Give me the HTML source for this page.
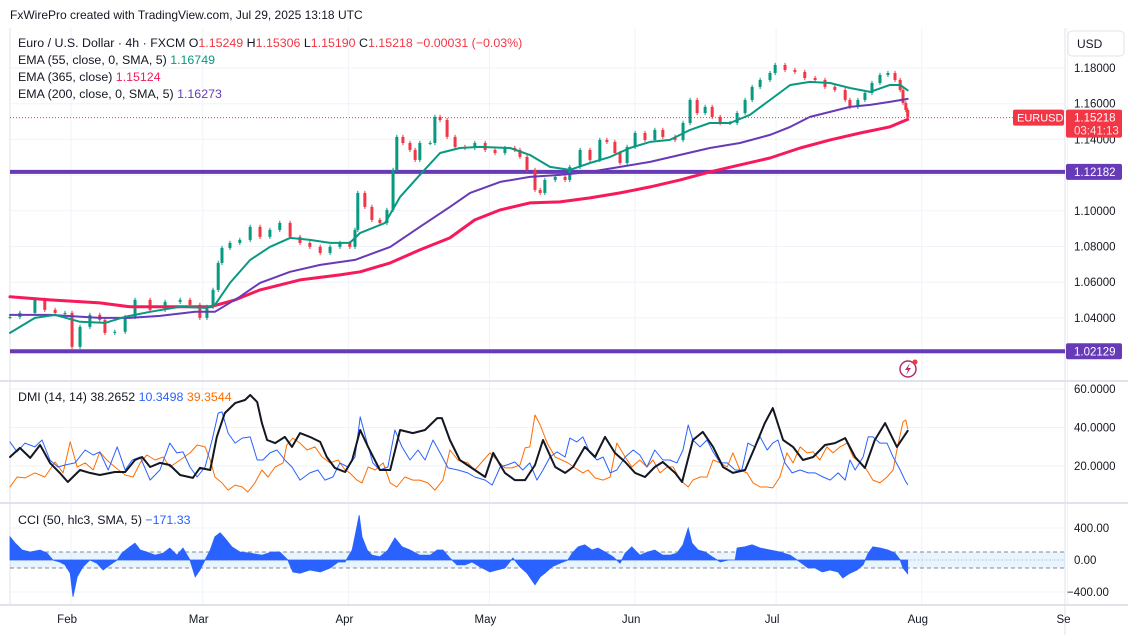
<!DOCTYPE html>
<html><head><meta charset="utf-8">
<style>
html,body{margin:0;padding:0;background:#fff;}
svg{display:block;font-family:"Liberation Sans",sans-serif;}
</style></head>
<body>
<svg id="chart" width="1128" height="635" viewBox="0 0 1128 635" xmlns="http://www.w3.org/2000/svg">
  <rect x="0" y="0" width="1128" height="635" fill="#ffffff"/>
  <g id="grid"></g>
  <g id="bands"></g>
  <g id="marks"></g>
  <g id="overlay"></g>
  <text x="10" y="19" font-size="12" fill="#131722">FxWirePro created with TradingView.com, Jul 29, 2025 13:18 UTC</text>
  <g font-size="12.4">
    <text x="18" y="47" fill="#131722">Euro / U.S. Dollar · 4h · FXCM  <tspan fill="#131722">O</tspan><tspan fill="#f23645">1.15249</tspan>  <tspan fill="#131722">H</tspan><tspan fill="#f23645">1.15306</tspan>  <tspan fill="#131722">L</tspan><tspan fill="#f23645">1.15190</tspan>  <tspan fill="#131722">C</tspan><tspan fill="#f23645">1.15218 −0.00031 (−0.03%)</tspan></text>
    <text x="18" y="64" fill="#131722">EMA (55, close, 0, SMA, 5) <tspan fill="#089981">1.16749</tspan></text>
    <text x="18" y="81" fill="#131722">EMA (365, close) <tspan fill="#f7195a">1.15124</tspan></text>
    <text x="18" y="98" fill="#131722">EMA (200, close, 0, SMA, 5) <tspan fill="#673ab7">1.16273</tspan></text>
    <text x="18" y="401" fill="#131722">DMI (14, 14)  <tspan fill="#131722">38.2652</tspan>  <tspan fill="#2962ff">10.3498</tspan>  <tspan fill="#ff6d00">39.3544</tspan></text>
    <text x="18" y="524" fill="#131722">CCI (50, hlc3, SMA, 5)  <tspan fill="#2962ff">−171.33</tspan></text>
  </g>
  <rect x="1068" y="31" width="56" height="25" rx="4" fill="#fff" stroke="#e0e3eb"/>
  <text x="1077" y="48" font-size="12" fill="#131722">USD</text>
  <g id="axes" font-size="11.5" fill="#131722"></g>
  <g>
    <circle cx="908" cy="369" r="8" fill="#fff" stroke="#b72a6b" stroke-width="1.5"/>
    <path d="M910 363 L905 370 L908 370 L906 375 L911 368 L908 368 Z" fill="#b72a6b"/>
    <circle cx="915" cy="362" r="2.5" fill="#f23645"/>
  </g>
</svg>
<script>
// ---- data (day offsets from Jan 19, 2025) ----
const closeDays = [0,2.1,5.3,7.4,9.6,11.7,13.2,14.9,17,19.1,20.2,22.3,24.5,26.6,29.8,33,36.2,38.3,40.4,41.9,43.2,44.3,45.1,46.8,48.9,51.1,53.2,55.3,57.4,59.6,61.7,63.8,66,68.1,70.2,72.3,73.4,74,75.5,77,78.7,80.2,81.5,82.3,83.6,85.1,86.2,87.2,89.4,90.4,91.5,93,94.7,96.8,98.9,101.1,103.2,105.3,107.4,108.5,110,111.7,112.8,113.8,116,118.1,119.1,121.3,123.4,125.5,127,128.7,129.8,131.3,133,135.1,137.2,138.9,141.5,143.2,144.7,146.2,147.9,149.4,151.1,153.2,154.7,156.4,157.9,159.6,161.7,162.8,164.9,167,169.1,171.3,173.4,175.5,177.7,178.7,180.4,181.9,183.4,185.1,186.8,188.3,189.4,190,190.6,191];
const closes = [1.0405,1.0428,1.0501,1.0445,1.0428,1.0428,1.0238,1.0350,1.0417,1.0389,1.0316,1.0322,1.0405,1.0501,1.0445,1.0490,1.0501,1.0473,1.0400,1.0462,1.0557,1.0708,1.0792,1.0820,1.0837,1.0910,1.0854,1.0893,1.0932,1.0854,1.0820,1.0798,1.0764,1.0798,1.0820,1.0798,1.0893,1.1100,1.1022,1.0949,1.0932,1.1005,1.1229,1.1414,1.1380,1.1341,1.1285,1.1380,1.1380,1.1526,1.1509,1.1414,1.1358,1.1352,1.1380,1.1341,1.1324,1.1352,1.1341,1.1302,1.1229,1.1117,1.1100,1.1173,1.1190,1.1173,1.1246,1.1341,1.1285,1.1397,1.1386,1.1324,1.1268,1.1358,1.1436,1.1397,1.1453,1.1414,1.1397,1.1492,1.1621,1.1548,1.1582,1.1526,1.1492,1.1492,1.1548,1.1621,1.1694,1.1733,1.1772,1.1817,1.1789,1.1778,1.1744,1.1733,1.1694,1.1677,1.1621,1.1582,1.1621,1.1660,1.1716,1.1761,1.1772,1.1733,1.1677,1.1604,1.1565,1.1522];

const ema55Days = [0,5.3,9.6,14.9,20.2,24.5,29.8,36.2,41.5,43.6,46.8,51.1,55.3,59.6,63.8,68.1,72.3,74.5,79.8,83,87.2,91.5,95.7,100,106.4,110.6,114.9,119.1,123.4,127.7,131.9,136.2,140.4,144.7,148.9,153.2,157.4,161.7,166,170.2,174.5,178.7,183,187.2,189.4,191];
const ema55 = [1.0316,1.0400,1.0417,1.0378,1.0372,1.0406,1.0434,1.0462,1.0456,1.0473,1.0596,1.0725,1.0798,1.0848,1.0837,1.0820,1.0820,1.0876,1.0932,1.1078,1.1201,1.1324,1.1352,1.1358,1.1352,1.1313,1.1246,1.1229,1.1268,1.1302,1.1352,1.1386,1.1397,1.1453,1.1492,1.1492,1.1537,1.1621,1.1705,1.1722,1.1716,1.1688,1.1666,1.1705,1.1705,1.1675];

const ema200Days = [0,8.5,19.1,25.5,31.9,39.4,43.6,48.9,53.2,59.6,66,73.4,80.9,87.2,93.6,97.9,104.3,110.6,117,123.4,129.8,136.2,142.6,148.9,155.3,161.7,166,170.2,174.5,178.7,183,187.2,191];
const ema200 = [1.0417,1.0417,1.0400,1.0400,1.0411,1.0434,1.0434,1.0518,1.0596,1.0658,1.0697,1.0725,1.0798,1.0910,1.1022,1.1100,1.1162,1.1190,1.1201,1.1218,1.1246,1.1274,1.1313,1.1352,1.1380,1.1425,1.1470,1.1526,1.1554,1.1582,1.1593,1.1610,1.1627];

const ema365Days = [0,8.5,19.1,25.5,34,42.6,47.9,53.2,61.7,70.2,74.5,80.9,87.2,93.6,98.9,104.3,110.6,117,123.4,129.8,136.2,142.6,148.9,155.3,161.7,168.1,174.5,180.9,187.2,191];
const ema365 = [1.0518,1.0501,1.0484,1.0462,1.0462,1.0462,1.0501,1.0557,1.0613,1.0641,1.0658,1.0708,1.0781,1.0848,1.0949,1.1005,1.1044,1.1050,1.1072,1.1100,1.1134,1.1173,1.1218,1.1257,1.1296,1.1352,1.1397,1.1436,1.1470,1.1512];

const adxDays = [0,2.1,4.3,6.4,8.5,10.6,12.3,14.9,17,19.1,22.3,24.5,26.6,28.1,29.8,31.9,34,36.2,38.9,40.4,42.6,44,45.7,47.9,50,51.1,52.6,53.6,54.7,56.4,58.5,60,61.7,63.8,66,67.4,69.1,71.3,72.8,74.5,76.2,78.7,80.9,83,85.7,88.3,90.9,91.9,93.6,95.7,98.9,101.1,102.8,105.3,107.4,109.6,111.7,113.4,116,118.1,119.8,122.3,124.5,126.6,128.7,130.9,133,135.1,137.2,138.9,141.5,143,145.3,147.4,149.6,151.7,153.8,156.4,158.5,160.6,162.3,164.5,166.6,168.7,170.9,173.4,175.5,177.7,179.8,181.9,184,186.2,188.7,191];
const adx = [24.7,29.4,24.2,30.9,21.6,16.4,11.7,17.9,16.4,15.3,16.9,16.9,23.1,24.7,19.5,21.6,20.5,15.3,13.8,19.0,17.9,35.1,47.5,52.7,54.3,56.9,53.2,42.3,33.5,31.9,35.1,29.9,37.1,35.1,32.5,24.7,19.0,16.9,23.1,38.7,29.9,17.9,17.9,38.7,37.1,38.7,44.9,44.9,33.5,23.1,17.9,14.3,26.8,16.4,12.7,12.7,20.5,33.5,19.5,16.4,19.5,29.9,24.7,35.1,26.8,22.1,16.4,14.3,19.5,22.1,16.4,11.7,33.5,37.7,29.9,19.5,16.4,17.9,29.9,42.3,50.1,33.5,29.9,23.1,24.7,30.9,31.9,34.5,24.7,19.0,33.5,42.3,29.9,38.27];

const plusDiDays = [0,1.5,3.2,5.3,6.8,8.5,10.2,11.7,13.8,16,17.7,19.1,20.9,22.8,24.5,26,27.7,29.8,31.9,34,35.5,36.8,38.3,39.8,41.5,43,44.3,45.1,46.4,47.9,49.4,51.1,52.6,53.8,55.3,56.8,58.5,60,61.7,63.8,65.5,67,68.7,70.2,71.9,73.4,74.5,76,77.2,78.7,80.4,81.9,83.4,85.1,86.8,88.3,90,91.5,93.2,95.3,97.4,98.9,101.1,102.6,104.3,105.7,107.4,109.1,110.6,112.1,113.4,114.9,116.4,118.1,119.1,120.6,121.9,123.4,124.9,126.2,127.7,129.1,130.9,132.6,134,135.5,137.2,138.9,140.4,141.9,143.2,144.3,145.3,146.8,148.3,149.6,151.1,152.6,154.3,155.7,157,158.5,159.6,161.1,162.3,163.4,164.9,166.4,168.1,169.8,171.3,173,174.5,176.2,177.7,178.7,179.8,181.5,182.6,183.6,185.1,186.6,187.9,189.4,190.4,191];
const plusDi = [32.5,27.3,31.9,29.9,33.5,23.1,19.5,20.5,21.6,28.3,25.7,27.3,17.9,29.9,17.9,23.1,24.7,12.7,17.9,31.9,26.8,27.3,19.5,14.3,19.5,33.5,47.5,48.1,37.1,31.9,34.5,35.1,23.1,23.1,26.8,28.3,23.1,19.5,12.7,16.4,17.9,12.7,14.3,21.6,19.5,24.7,45.5,31.9,21.6,17.9,19.5,38.7,29.9,23.1,28.3,23.1,33.5,26.8,19.0,17.9,16.4,14.3,12.7,10.1,19.5,20.5,22.1,17.9,21.6,12.7,17.9,24.7,27.3,24.7,34.5,32.5,35.1,26.8,23.1,24.7,16.4,17.9,24.7,28.3,25.7,19.5,28.3,23.1,23.1,21.6,28.3,41.3,33.5,29.9,33.5,27.3,21.6,21.6,17.9,17.9,31.9,29.9,35.1,28.3,31.9,33.5,21.6,16.4,17.9,16.4,16.4,14.3,12.7,16.4,12.7,23.1,17.9,24.7,35.1,35.1,31.9,31.9,24.7,17.9,12.7,10.35];

const minusDiDays = [0,1.5,3.2,5.3,7.4,9.6,11.3,12.8,14.3,16,17.7,19.1,20.6,22.3,24.5,26.2,27.7,29.1,30.9,32.6,34,36.2,38.3,39.8,41.5,42.6,43.6,45.1,46.4,47.9,49.4,50.6,52.1,53.6,54.9,56.4,58.1,58.9,60.2,61.7,63.2,64.9,66.4,68.1,69.8,71.3,72.3,73.8,74.9,76.2,77.7,79.4,80.9,82.3,84,85.7,87.2,88.9,90.4,92.1,93.6,95.3,97.4,98.9,100.4,102.1,103.6,105.3,106.8,108.5,109.6,110.6,111.7,112.8,114.3,116,117.4,118.7,120.2,121.9,123,124.5,126.2,127.7,129.1,130.9,132.3,134,135.5,136.8,138.3,139.8,141.1,142.6,144.3,145.3,146.8,148.3,149.6,151.1,152.6,153.8,155.3,156.8,158.1,159.6,161.1,162.3,163.8,165.3,166.6,168.1,169.6,170.9,172.3,173.8,175.1,176.6,178.1,179.4,180.9,182.3,183.6,185.1,186.6,187.9,188.7,190,190.6,191];
const minusDi = [9.1,14.3,13.8,16.4,14.3,22.1,16.4,32.5,19.5,21.6,17.9,27.3,23.1,19.5,15.3,14.3,21.6,25.7,23.1,24.7,19.5,23.1,26.8,30.9,29.9,23.1,14.3,11.2,7.5,10.1,9.1,6.5,11.2,17.9,14.3,19.5,21.6,30.9,34.5,31.9,28.3,29.9,24.7,21.6,23.1,17.9,16.4,12.7,11.2,19.5,17.9,21.6,11.2,9.1,14.3,12.7,12.7,11.2,7.5,12.7,28.3,23.1,21.6,17.9,22.1,26.8,23.1,19.0,19.0,20.5,29.4,29.9,46.5,41.3,31.9,24.7,23.1,21.6,19.0,16.4,17.9,13.8,12.7,14.3,31.9,24.7,19.5,23.1,19.5,23.1,16.4,19.5,19.5,12.7,9.1,12.7,14.3,14.3,23.1,21.6,19.5,26.8,17.9,16.4,11.2,9.1,9.1,8.6,14.3,26.8,21.6,29.9,26.8,27.3,23.1,29.9,26.8,29.9,31.9,24.7,21.6,17.9,12.7,11.2,14.3,17.9,28.3,42.9,43.9,39.35];

const cciDays = [0,1.1,2.6,4.3,6.4,7.9,9.1,10.6,11.7,12.8,13.4,14.3,15.5,17,18.5,19.8,21.3,22.8,23.8,25.5,26.6,27.7,29.1,30.9,32.6,34,35.5,36.8,38.3,39.4,40.4,41.5,42.6,43.6,44.7,45.7,47.2,48.9,51.1,53.6,55.7,57.4,59.1,60.2,61.7,63.8,66,68.1,69.8,71.3,72.8,73.8,74.3,74.9,76,77,78.7,80.4,81.9,83.4,85.1,87.2,89.4,90.9,92.1,93.6,95.1,96.8,98.3,100,102.1,103.6,105.3,107,108.5,110,111.7,112.8,113.8,115.3,117,118.7,119.6,120.9,122.3,123.8,125.1,126.6,128.3,129.8,130.9,132.3,134,135.7,137.2,138.9,140.4,141.9,143.2,144.3,145.1,146.4,147.9,149.4,151.1,152.8,154.3,154.7,156.4,157.9,159.6,161.7,163.8,166,168.1,169.8,171.3,172.8,174.5,176.2,177.2,178.7,180.2,181.5,182.6,183.6,185.1,186.8,188.3,189.4,190,191];
const cci = [290,210,125,100,125,85,0,-25,-60,-165,-460,-210,-85,0,-40,-125,-60,0,85,165,210,125,100,60,85,150,60,150,0,-210,-125,0,125,290,340,275,165,100,85,60,100,100,0,-150,-165,-125,-150,-100,-25,-25,125,415,560,290,125,60,40,125,275,165,125,60,60,125,125,25,-60,-60,-25,-85,-150,-125,-100,25,-85,-165,-310,-210,-165,-85,-40,0,85,165,190,125,150,100,40,-40,85,165,60,100,125,60,60,85,190,400,210,125,100,40,-25,0,0,150,165,190,150,125,100,60,-25,-100,-100,-150,-125,-150,-225,-165,-125,-60,85,165,150,125,85,0,-100,-171.33];

const priceTicks = ["1.18000","1.16000","1.14000","1.10000","1.08000","1.06000","1.04000"];
const priceTickVals = [1.18,1.16,1.14,1.10,1.08,1.06,1.04];
const gridPriceVals = [1.18,1.16,1.14,1.12,1.10,1.08,1.06,1.04,1.02];
const dmiTickVals = [60,40,20];
const dmiTicks = ["60.0000","40.0000","20.0000"];
const cciTickVals = [400,0,-400];
const cciTicks = ["400.00","0.00","−400.00"];
const monthDays = [13,41,72,102,133,163,194,225];
const monthLabels = ["Feb","Mar","Apr","May","Jun","Jul","Aug","Se"];
const hLevels = [1.12182,1.02129];
const hLevelLabels = ["1.12182","1.02129"];
const lastPrice = 1.15218;

// ---- scales ----
const X0 = 10, PX_PER_DAY = 4.70, PANE_R = 1065;
const xD = d => X0 + PX_PER_DAY * d;
const yP = p => 68 + (1.18 - p) * 1785;
const yD = v => 504.5 - 1.925 * v;
const yC = v => 560 - 0.08 * v;
const NS = "http://www.w3.org/2000/svg";
function mk(tag, parent, attrs){ const e=document.createElementNS(NS,tag); for(const k in attrs) e.setAttribute(k,attrs[k]); parent.appendChild(e); return e; }

const grid = document.getElementById('grid');
const marks = document.getElementById('marks');
const overlay = document.getElementById('overlay');
const axes = document.getElementById('axes');
const bands = document.getElementById('bands');

monthDays.forEach((d,i)=>{
  const l = mk('line', grid, {x1:xD(d), x2:xD(d), y1:28, y2:605, stroke:'#f0f3fa', 'stroke-width':1});
  
  
});
gridPriceVals.forEach(v=>{
  const l = mk('line', grid, {x1:X0, x2:PANE_R, y1:yP(v), y2:yP(v), stroke:'#f0f3fa'});
  
  
});
dmiTickVals.forEach(v=>{
  const l = mk('line', grid, {x1:X0, x2:PANE_R, y1:yD(v), y2:yD(v), stroke:'#f0f3fa'});
  
  
});
cciTickVals.forEach(v=>{
  const l = mk('line', grid, {x1:X0, x2:PANE_R, y1:yC(v), y2:yC(v), stroke:'#f0f3fa'});
  
  
});
[[381,'pane-separator-dmi'],[503,'pane-separator-cci'],[605,'time-axis-border']].forEach(s=>{
  const l = mk('line', grid, {x1:0, x2:1128, y1:s[0], y2:s[0], stroke:'#e0e3eb', 'stroke-width':2});
  
  
});
const vb = mk('line', grid, {x1:PANE_R, x2:PANE_R, y1:28, y2:635, stroke:'#e0e3eb'});


const lb = mk('line', grid, {x1:X0, x2:X0, y1:28, y2:605, stroke:'#e0e3eb'});



const band = mk('rect', bands, {x:X0, y:yC(100), width:PANE_R-X0, height:yC(-100)-yC(100), fill:'rgba(33,150,243,0.1)'});


[100,0,-100].forEach(v=>{
  const l = mk('line', bands, {x1:X0, x2:PANE_R, y1:yC(v), y2:yC(v), stroke:'#787b86', 'stroke-dasharray': v===0?'1 3':'4 3', 'stroke-opacity': v===0?0.4:0.9});
  
  
});

hLevels.forEach((v,i)=>{
  const l = mk('line', marks, {x1:X0, x2:PANE_R, y1:yP(v), y2:yP(v), stroke:'#673ab7', 'stroke-width':4});
  
  
});

const cg = mk('g', marks, {});


closes.forEach((c,i)=>{
  const o = i===0 ? c : closes[i-1];
  const up = c >= o;
  const col = up ? '#089981' : '#f23645';
  const x = xD(closeDays[i]);
  const hi = Math.max(o,c)+0.0012, lo = Math.min(o,c)-0.0012;
  const w = mk('line', cg, {x1:x, x2:x, y1:yP(hi), y2:yP(lo), stroke:col, 'stroke-width':1});
  
  
  const top = yP(Math.max(o,c)), h = Math.max(1, yP(Math.min(o,c)) - top);
  const b = mk('rect', cg, {x:x-1.5, y:top, width:3, height:h, fill:col});
  
  
});

function line(days, vals, yf, color, width, name){
  const d = days.map((dd,i)=>(i?'L':'M')+xD(dd).toFixed(1)+' '+yf(vals[i]).toFixed(1)).join(' ');
  const p = mk('path', marks, {d:d, fill:'none', stroke:color, 'stroke-width':width, 'stroke-linejoin':'round', 'stroke-linecap':'round'});
  
  
  return p;
}
line(ema365Days, ema365, yP, '#f7195a', 3, 'ema365-line');
line(ema200Days, ema200, yP, '#673ab7', 2, 'ema200-line');
line(ema55Days, ema55, yP, '#089981', 2, 'ema55-line');

line(minusDiDays, minusDi, yD, '#ff6d00', 1, 'minus-di-line');
line(plusDiDays, plusDi, yD, '#2962ff', 1, 'plus-di-line');
line(adxDays, adx, yD, '#131722', 2, 'adx-line');

let cd = 'M'+xD(cciDays[0]).toFixed(1)+' '+yC(0);
cciDays.forEach((dd,i)=>{ cd += ' L'+xD(dd).toFixed(1)+' '+yC(cci[i]).toFixed(1); });
cd += ' L'+xD(cciDays[cciDays.length-1]).toFixed(1)+' '+yC(0)+' Z';
const ca = mk('path', marks, {d:cd, fill:'#2962ff', stroke:'#2962ff', 'stroke-width':0.8});



const lp = mk('line', overlay, {x1:X0, x2:PANE_R, y1:yP(lastPrice), y2:yP(lastPrice), stroke:'#f23645', 'stroke-dasharray':'1 2', 'stroke-width':1});



priceTicks.forEach((t,i)=>{
  const e = mk('text', axes, {x:1074, y:yP(priceTickVals[i])+4});
  e.textContent = t;
  
  
});
dmiTicks.forEach((t,i)=>{
  const e = mk('text', axes, {x:1074, y:yD(dmiTickVals[i])+4});
  e.textContent = t;
  
  
});
cciTicks.forEach((t,i)=>{
  const e = mk('text', axes, {x:cciTickVals[i]<0?1067:1074, y:yC(cciTickVals[i])+4});
  e.textContent = t;
  
  
});
monthLabels.forEach((t,i)=>{
  const e = mk('text', axes, {x:xD(monthDays[i])-4, y:623, 'text-anchor':'middle'});
  e.textContent = t;
  
  
});
hLevels.forEach((v,i)=>{
  const r = mk('rect', axes, {x:1066, y:yP(v)-8, width:56, height:16, rx:2, fill:'#673ab7'});
  
  
  const e = mk('text', axes, {x:1074, y:yP(v)+4, fill:'#fff'});
  e.textContent = hLevelLabels[i];
  
  
});
const sy = yP(lastPrice);
const sb = mk('rect', axes, {x:1013, y:sy-8, width:51, height:16, rx:2, fill:'#f23645'});


const st = mk('text', axes, {x:1017, y:sy+4, fill:'#fff', 'font-size':11});
st.textContent = 'EURUSD';


const pb = mk('rect', axes, {x:1066, y:sy-8, width:56, height:28, rx:2, fill:'#f23645'});


const pt = mk('text', axes, {x:1074, y:sy+4, fill:'#fff'});
pt.textContent = '1.15218';


const ct = mk('text', axes, {x:1074, y:sy+17, fill:'#fde0e3'});
ct.textContent = '03:41:13';


</script>
</body></html>
